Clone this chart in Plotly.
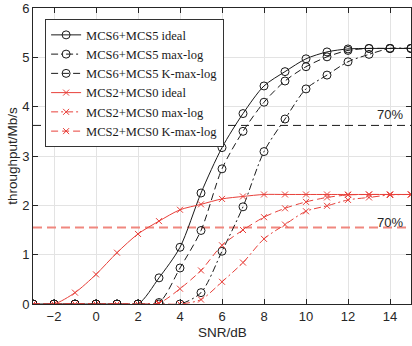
import plotly.graph_objects as go

snr = list(range(-3, 16))

mcs65_ideal = [0, 0, 0, 0, 0, 0, 0.53, 1.15, 2.25, 3.17, 3.86, 4.42, 4.71, 4.97, 5.11, 5.17, 5.18, 5.18, 5.18]
mcs65_maxlog = [0, 0, 0, 0, 0, 0, 0, 0, 0.23, 1.07, 1.97, 3.09, 3.75, 4.36, 4.64, 4.91, 5.06, 5.18, 5.18]
mcs65_kmaxlog = [0, 0, 0, 0, 0, 0, 0.03, 0.73, 1.49, 2.74, 3.50, 4.09, 4.52, 4.81, 5.01, 5.14, 5.18, 5.18, 5.18]

mcs20_ideal = [0, 0, 0.23, 0.60, 1.04, 1.42, 1.68, 1.91, 2.02, 2.13, 2.18, 2.22, 2.22, 2.22, 2.22, 2.22, 2.22, 2.22, 2.22]
mcs20_maxlog = [0, 0, 0, 0, 0, 0, 0, 0, 0.09, 0.45, 0.84, 1.32, 1.61, 1.88, 1.99, 2.11, 2.16, 2.21, 2.22]
mcs20_kmaxlog = [0, 0, 0, 0, 0, 0, 0.02, 0.31, 0.68, 1.19, 1.50, 1.76, 1.94, 2.07, 2.16, 2.21, 2.22, 2.22, 2.22]

thr_black = 3.62
thr_red = 1.55
thr_label = "70%"

x_ticks = list(range(-2, 16, 2))
y_ticks = list(range(0, 7))

BLACK = "#1a1a1a"
RED = "#e8403a"
RED_LIGHT = "#f0877f"
TXT = "#262626"
SANS = "Liberation Sans, Arial"
DASH = "7px,4px"
DASHDOT = "7px,3px,2px,3px"

fig = go.Figure()

# threshold lines
fig.add_trace(go.Scatter(x=[-3, 15], y=[thr_black, thr_black], mode="lines",
                         line=dict(color=BLACK, width=1, dash="8px,5px"),
                         showlegend=False, hoverinfo="skip"))
fig.add_trace(go.Scatter(x=[-3, 15], y=[thr_red, thr_red], mode="lines",
                         line=dict(color=RED_LIGHT, width=2, dash="9px,5px"),
                         showlegend=False, hoverinfo="skip"))

def add(y, name, color, dash, symbol, msize):
    fig.add_trace(go.Scatter(
        x=snr, y=y, name=name, mode="lines+markers",
        line=dict(color=color, width=1, dash=dash, shape="spline", smoothing=0.8),
        marker=dict(symbol=symbol, size=msize, color=color, line=dict(width=1, color=color)),
    ))

add(mcs65_ideal, "MCS6+MCS5 ideal", BLACK, "solid", "circle-open", 8)
add(mcs65_maxlog, "MCS6+MCS5 max-log", BLACK, DASHDOT, "circle-open", 8)
add(mcs65_kmaxlog, "MCS6+MCS5 K-max-log", BLACK, DASH, "circle-open", 8)
add(mcs20_ideal, "MCS2+MCS0 ideal", RED, "solid", "x-thin-open", 6)
add(mcs20_maxlog, "MCS2+MCS0 max-log", RED, DASHDOT, "x-thin-open", 6)
add(mcs20_kmaxlog, "MCS2+MCS0 K-max-log", RED, DASH, "x-thin-open", 6)

fig.add_annotation(x=14, y=3.85, text=thr_label, showarrow=False,
                   font=dict(family=SANS, size=13, color=TXT))
fig.add_annotation(x=14, y=1.66, text=thr_label, showarrow=False,
                   font=dict(family=SANS, size=13, color=TXT))

# axis titles
fig.add_annotation(xref="paper", yref="paper", x=0.5, y=-0.097, text="SNR/dB",
                   showarrow=False, xanchor="center", yanchor="middle",
                   font=dict(family=SANS, size=13.5, color=TXT))
fig.add_annotation(xref="paper", yref="paper", x=-0.056, y=0.5, text="throughput/Mb/s",
                   showarrow=False, xanchor="center", yanchor="middle", textangle=-90,
                   font=dict(family=SANS, size=13.5, color=TXT))

axis_common = dict(
    showgrid=True, gridcolor="#e3e3e3", gridwidth=1,
    showline=True, linecolor=TXT, linewidth=1, mirror="ticks",
    ticks="inside", ticklen=5, tickcolor=TXT,
    zeroline=False, automargin=False,
    tickfont=dict(family=SANS, size=13, color=TXT),
)

fig.update_xaxes(range=[-3, 15], tickvals=x_ticks, **axis_common)
fig.update_yaxes(range=[0, 6], tickvals=y_ticks, **axis_common)

fig.update_layout(
    width=412, height=346,
    margin=dict(l=33, r=1, t=8, b=42),
    plot_bgcolor="white", paper_bgcolor="white",
    legend=dict(x=0.032, y=0.962, xanchor="left", yanchor="top",
                bgcolor="white", bordercolor="#333333", borderwidth=1,
                font=dict(family="Liberation Serif, Times New Roman", size=12.5, color=BLACK),
                tracegroupgap=0, itemwidth=30),
    showlegend=True,
)

fig.write_html("out.html", config={"displayModeBar": False},
               post_script="document.body.style.margin='0px';document.body.style.overflow='hidden';")
